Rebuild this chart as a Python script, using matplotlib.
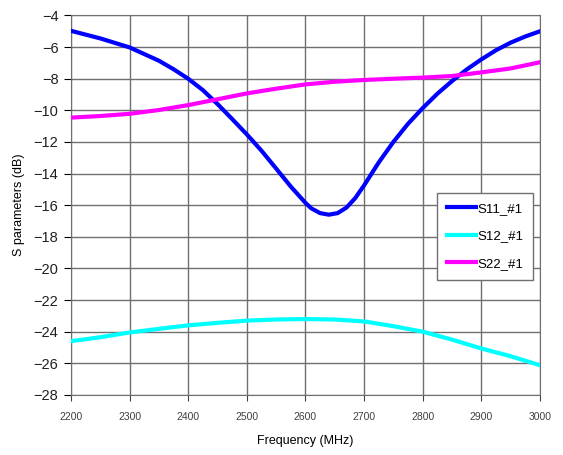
import matplotlib
matplotlib.use('Agg')
import matplotlib.pyplot as plt

plt.rcParams['font.family'] = ['Liberation Sans', 'DejaVu Sans']

# S11
s11_f = [2200, 2250, 2300, 2350, 2375, 2400, 2425, 2450, 2475, 2500, 2525, 2550,
         2575, 2600, 2610, 2625, 2640, 2655, 2670, 2685, 2700, 2725, 2750, 2775,
         2800, 2825, 2850, 2875, 2900, 2925, 2950, 2975, 3000]
s11_db = [-4.97, -5.45, -6.02, -6.86, -7.4, -8.0, -8.72, -9.6, -10.55, -11.52, -12.55, -13.68,
          -14.82, -15.85, -16.2, -16.5, -16.6, -16.5, -16.15, -15.55, -14.75, -13.3, -12.0, -10.85,
          -9.86, -8.95, -8.15, -7.42, -6.78, -6.2, -5.72, -5.33, -5.0]

s12_f = [2200, 2250, 2300, 2350, 2400, 2450, 2500, 2550, 2600, 2650, 2700, 2750,
         2800, 2850, 2900, 2950, 3000]
s12_db = [-24.6, -24.35, -24.05, -23.82, -23.6, -23.44, -23.3, -23.23, -23.2, -23.23,
          -23.35, -23.65, -24.0, -24.5, -25.06, -25.55, -26.12]

s22_f = s12_f
s22_db = [-10.46, -10.36, -10.22, -9.98, -9.67, -9.3, -8.93, -8.63, -8.36, -8.19,
          -8.08, -8.0, -7.93, -7.83, -7.6, -7.35, -6.96]

x_ticks = [2200, 2300, 2400, 2500, 2600, 2700, 2800, 2900, 3000]
y_ticks = list(range(-28, -3, 2))

fig = plt.figure(figsize=(5.63, 4.55), dpi=100)
ax = fig.add_axes([0.126, 0.132, 0.833, 0.834])

ax.plot(s11_f, s11_db, color='#0000FF', linewidth=3, label='S11_#1', zorder=3)
ax.plot(s12_f, s12_db, color='#00FFFF', linewidth=3, label='S12_#1', zorder=3)
ax.plot(s22_f, s22_db, color='#FF00FF', linewidth=3, label='S22_#1', zorder=3)

ax.set_xlim(2200, 3000)
ax.set_ylim(-28, -4)
ax.set_xticks(x_ticks)
ax.set_yticks(y_ticks)
ax.tick_params(axis='x', labelsize=7.5, colors='#404040', direction='out', length=4, pad=8)
ax.tick_params(axis='y', labelsize=10.5, direction='out', length=5, pad=4)
for lbl in ax.get_yticklabels():
    lbl.set_color('#202020')

ax.grid(True, color='#707070', linewidth=1)
for s in ax.spines.values():
    s.set_color('#707070')

ax.set_xlabel('Frequency (MHz)', fontsize=9, labelpad=10)
ax.set_ylabel('S parameters (dB)', fontsize=9, labelpad=6)

leg = ax.legend(loc='upper left', bbox_to_anchor=(0.766, 0.55), fontsize=9.5,
                fancybox=False, framealpha=1, edgecolor='#707070',
                handlelength=2.2, handletextpad=0.1, labelspacing=1.15,
                borderpad=0.75)
leg.get_frame().set_linewidth(1)

fig.savefig('out.png', dpi=100)
